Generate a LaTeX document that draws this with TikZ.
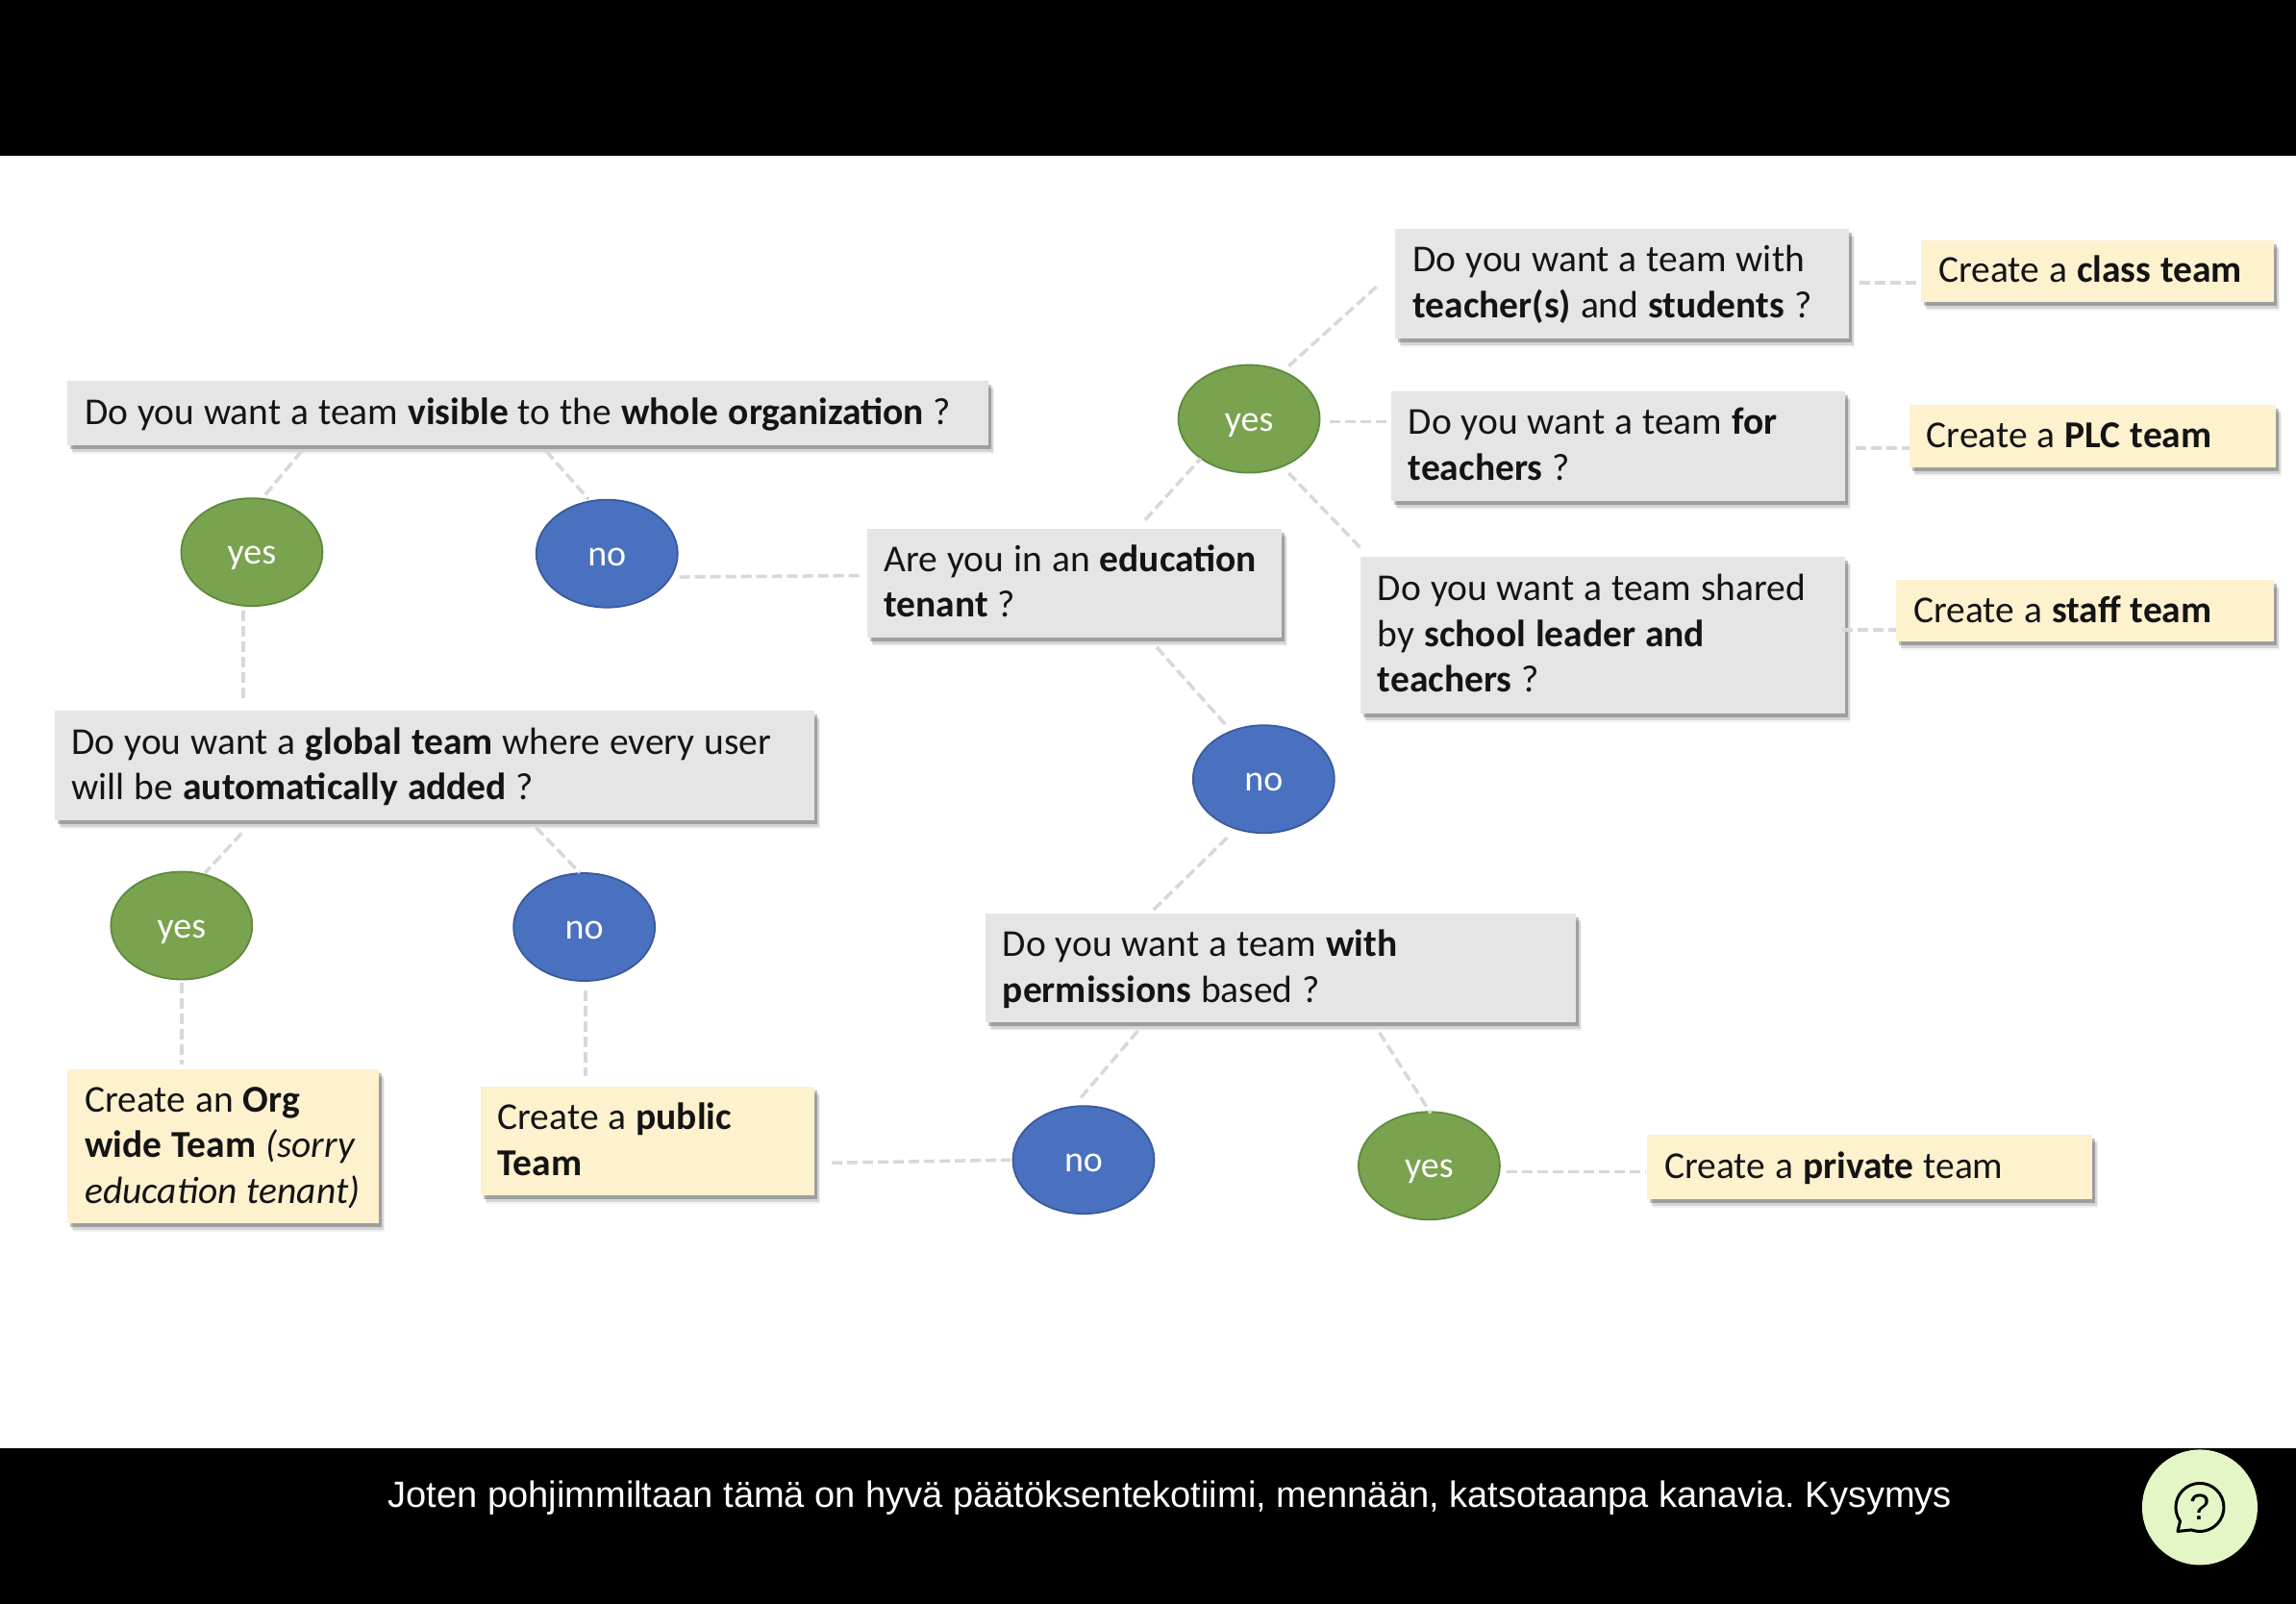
\documentclass[tikz,border=0pt]{standalone}
\usepackage{fontspec}
\setmainfont{Carlito}
\newfontfamily\capfont{Liberation Sans}
\usetikzlibrary{calc,shadows,shapes.geometric}
\definecolor{qfill}{HTML}{E5E5E5}
\definecolor{afill}{HTML}{FDF1CE}
\definecolor{yesfill}{HTML}{7AA34F}
\definecolor{yesline}{HTML}{5F8A3D}
\definecolor{nofill}{HTML}{4A70C0}
\definecolor{noline}{HTML}{3A5A9C}
\definecolor{connc}{HTML}{D8D8D8}
\definecolor{helpfill}{HTML}{E5F6C6}
\tikzset{
  softshadow/.style={
    general shadow={fill=black,opacity=.05,shadow xshift=6pt,shadow yshift=-9pt},
    general shadow={fill=black,opacity=.12,shadow xshift=5pt,shadow yshift=-7pt},
    general shadow={fill=black,opacity=.25,shadow xshift=3pt,shadow yshift=-4pt}},
  tbox/.style n args={2}{rectangle,softshadow,inner xsep=18pt,inner ysep=0pt,
    minimum width=#1 pt,minimum height=#2 pt,text width=\dimexpr#1pt-36pt\relax,
    align=left,font=\fontsize{39.5}{47.5}\selectfont,text=black!92,
    execute at begin node={\spaceskip=10pt\relax\rule{0pt}{32pt}},
    execute at end node={\rule[-8pt]{0pt}{8pt}}},
  qbox/.style 2 args={tbox={#1}{#2},fill=qfill},
  abox/.style 2 args={tbox={#1}{#2},fill=afill},
  oval/.style={ellipse,inner sep=0pt,minimum width=147pt,minimum height=112pt,
    line width=1.8pt,text=white,font=\fontsize{38}{40}\selectfont,
    text height=25pt,text depth=0pt},
  yesoval/.style={oval,fill=yesfill,draw=yesline},
  nooval/.style={oval,fill=nofill,draw=noline},
  conn/.style={draw=connc,line width=3.5pt,dash pattern=on 11pt off 5pt},
  band/.style={fill=black,draw=none},
}
\begin{document}
\frenchspacing
\begin{tikzpicture}[x=1.523pt,y=-1.523pt]
\useasboundingbox (0,0) rectangle (1568,1095.2);
\fill[white] (0,0) rectangle (1568,1095.2);
\fill[band] (0,0) rectangle (1568,106.3);
\fill[band] (0,988.7) rectangle (1568,1095.2);

% question boxes
\node[qbox={958}{67}] (q1) at (360.5,282) {Do you want a team \textbf{visible} to the \textbf{whole organization} ?};
\node[qbox={790}{114}] (global) at (296.5,522.5) {Do you want a \textbf{global team} where every user\\will be \textbf{automatically added} ?};
\node[qbox={431}{113}] (edu) at (733.5,398) {Are you in an \textbf{education}\\\textbf{tenant} ?};
\node[qbox={472}{114}] (teach) at (1108,193.5) {Do you want a team with\\\textbf{teacher(s)} and \textbf{students} ?};
\node[qbox={472}{114}] (plc) at (1105,304.5) {Do you want a team \textbf{for}\\\textbf{teachers} ?};
\node[qbox={504}{163}] (staff) at (1094.5,433.5) {Do you want a team shared\\by \textbf{school leader and}\\\textbf{teachers} ?};
\node[qbox={614}{113}] (perm) at (874.5,661) {Do you want a team \textbf{with}\\\textbf{permissions} based ?};

% answers
\node[abox={367}{64}] (aclass) at (1432.5,185) {Create a \textbf{class team}};
\node[abox={381}{65}] (aplc) at (1429,297.5) {Create a \textbf{PLC team}};
\node[abox={393}{64}] (astaff) at (1424,417) {Create a \textbf{staff team}};
\node[abox={463}{67}] (apriv) at (1277,797) {Create a \textbf{private} team};
\node[abox={324}{160}] (aorg) at (152.5,782.5) {Create an \textbf{Org}\\\textbf{wide Team} \textit{(sorry}\\\textit{education tenant)}};
\node[abox={347}{113}] (apub) at (442,779) {Create a \textbf{public}\\\textbf{Team}};

% ovals
\node[yesoval] (yes1) at (172,377) {yes};
\node[nooval] (no1) at (414.5,378) {no};
\node[yesoval] (yes2) at (124,632) {yes};
\node[nooval] (no2) at (399,633) {no};
\node[yesoval] (yes3) at (853,286) {yes};
\node[nooval] (no3) at (863,532) {no};
\node[nooval] (no4) at (740,792) {no};
\node[yesoval] (yes4) at (976,796) {yes};

% connectors
\draw[conn] ($(q1)+(-154.5,26)$) -- ($(yes1)+(9,-39)$);
\draw[conn] ($(q1)+(12.5,26)$) -- ($(no1)+(-12.5,-37)$);
\draw[conn] ($(no1)+(49.5,16)$) -- ($(edu)+(-143.5,-5)$);
\draw[conn] ($(yes1)+(-6,40)$) -- ($(global)+(-130.5,-44.5)$);
\draw[conn] ($(global)+(-131.5,46.5)$) -- ($(yes2)+(16,-36)$);
\draw[conn] ($(global)+(69.5,42.5)$) -- ($(no2)+(-3,-37)$);
\draw[conn] ($(yes2)+(0,39)$) -- ($(aorg)+(-28.5,-55.5)$);
\draw[conn] ($(no2)+(1,43)$) -- ($(apub)+(-42,-44)$);
\draw[conn] ($(apub)+(126,15)$) -- ($(no4)+(-50,0)$);
\draw[conn] ($(edu)+(48.5,-43)$) -- ($(yes3)+(-33,27)$);
\draw[conn] ($(yes3)+(27,-36)$) -- ($(teach)+(-166,0.5)$);
\draw[conn] ($(yes3)+(55,2)$) -- ($(plc)+(-156,-16.5)$);
\draw[conn] ($(yes3)+(27,37)$) -- ($(staff)+(-164.5,-58.5)$);
\draw[conn] ($(edu)+(56.5,44)$) -- ($(no3)+(-25,-36)$);
\draw[conn] ($(no3)+(-25,40)$) -- ($(perm)+(-88.5,-38)$);
\draw[conn] ($(perm)+(-97.5,43)$) -- ($(no4)+(-4,-40)$);
\draw[conn] ($(perm)+(67.5,44)$) -- ($(yes4)+(1,-36)$);
\draw[conn] ($(yes4)+(53,4)$) -- ($(apriv)+(-153,3)$);
\draw[conn] ($(teach)+(162,-0.5)$) -- ($(aclass)+(-121.5,8)$);
\draw[conn] ($(plc)+(162,1.5)$) -- ($(aplc)+(-125,8.5)$);
\draw[conn] ($(staff)+(163.5,-3.5)$) -- ($(astaff)+(-129,13)$);

% caption
\node[text=white,inner sep=0pt,font=\capfont\fontsize{38.05}{44}\selectfont] (caption) at (799,1022.5) {Joten pohjimmiltaan tämä on hyvä päätöksentekotiimi, mennään, katsotaanpa kanavia. Kysymys};

% help button
\node[circle,fill=helpfill,minimum size=120pt,inner sep=0pt] (help) at (1502.3,1029.2) {};
\begin{scope}[shift={(help.center)},x=1pt,y=1pt]
  \draw[black,line width=3pt,line join=round,line cap=round] (215:25) arc[start angle=215,end angle=-110,radius=25] -- (-23,-25) -- cycle;
  \node[inner sep=0pt,font=\capfont\fontsize{38}{40}\selectfont] (helpmark) at (0,0) {?};
\end{scope}
\end{tikzpicture}
\end{document}
